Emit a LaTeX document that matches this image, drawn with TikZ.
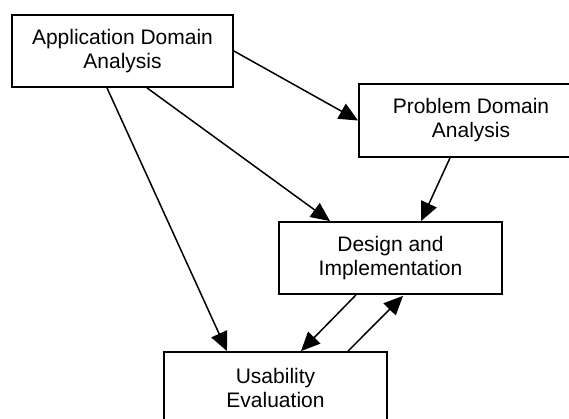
\documentclass[tikz,border=0pt]{standalone}
\usepackage{fontspec}
\setmainfont{Liberation Sans}
\usetikzlibrary{calc,arrows.meta}
\begin{document}
\begin{tikzpicture}[x=1pt,y=-1pt,
  box/.style={draw=black, line width=1.8pt, fill=white, inner sep=0pt, align=center,
    font=\fontsize{21}{24}\selectfont},
  conn/.style={draw=black, line width=1.5pt, -{Triangle[length=19pt,width=17pt]}}]
\useasboundingbox (0,0) rectangle (569,419);
\clip (0,0) rectangle (569,419);
\fill[white] (0,0) rectangle (569,419);
\node[box, minimum width=221pt, minimum height=72pt] (ada) at (122.5,51) {Application Domain\\Analysis};
\node[box, minimum width=224pt, minimum height=73pt] (pda) at (471,120.5) {Problem Domain\\Analysis};
\node[box, minimum width=223pt, minimum height=72pt] (di) at (390.5,258) {Design and\\Implementation};
\node[box, minimum width=223pt, minimum height=72pt] (ue) at (275.5,388) {Usability\\Evaluation};
\draw[conn] (ada.east) -- (pda.west);
\draw[conn] ($(ada.south)+(24.5,0)$) -- ($(di.north)+(-60.5,0)$);
\draw[conn] ($(ada.south)+(-15.5,0)$) -- ($(ue.north)+(-48.5,0)$);
\draw[conn] ($(pda.south)+(-21,0)$) -- ($(di.north)+(30.5,0)$);
\draw[conn] ($(di.south)+(-34.5,0)$) -- ($(ue.north)+(25.5,0)$);
\draw[conn] ($(ue.north)+(72.5,0)$) -- ($(di.south)+(12.5,1)$);
\end{tikzpicture}
\end{document}
